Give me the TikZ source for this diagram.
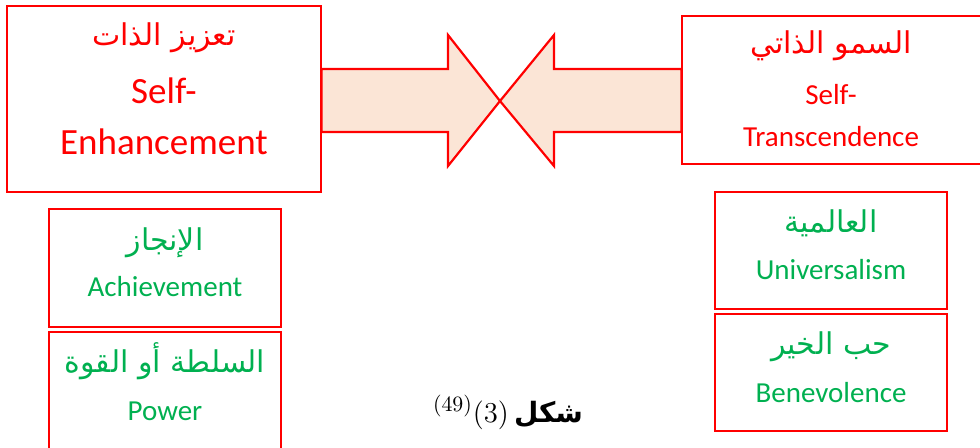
\documentclass[tikz,border=0pt]{standalone}
\usepackage{fontspec}
\setmainfont{Carlito}
\newfontfamily\arabicfont[Script=Arabic]{DejaVu Sans}
\TeXXeTstate=1
\usetikzlibrary{positioning,calc}
\definecolor{vred}{HTML}{FF0000}
\definecolor{vgreen}{HTML}{00B050}
\definecolor{vpeach}{HTML}{FBE5D6}
\tikzset{
  box style/.style={rectangle, draw=vred, line width=0.6pt, inner sep=0pt},
  big style/.style={anchor=base, inner sep=0pt, text=vred, font=\fontsize{18.5}{22}\selectfont},
  red style/.style={anchor=base, inner sep=0pt, text=vred, font=\fontsize{14.5}{17}\selectfont},
  grn style/.style={anchor=base, inner sep=0pt, text=vgreen, font=\fontsize{14.5}{17}\selectfont},
  ar style/.style={anchor=base, inner sep=0pt, font=\arabicfont\fontsize{15}{18}\selectfont},
  blk style/.style={draw=vred, fill=vpeach, line width=1.1pt, line join=miter}
}

\begin{document}
\begin{tikzpicture}[x=0.5pt, y=-0.5pt]
\useasboundingbox (0,0) rectangle (980,447);

\node[box style, minimum width=157pt, minimum height=93pt] (enh) at (164,99) {};
\node[box style, minimum width=154pt, minimum height=74pt] (trans) at (836,90) {};
\node[box style, minimum width=116pt, minimum height=59pt] (ach) at (165,268) {};
\node[box style, minimum width=116pt, minimum height=64pt] (pow) at (165,396) {};
\node[box style, minimum width=116pt, minimum height=58.5pt] (univ) at (831,250.5) {};
\node[box style, minimum width=116pt, minimum height=58.5pt] (bene) at (831,372.5) {};

\coordinate (mid) at (500,101);
\draw[blk style] (enh.east |- 0,69) -- (448,69) -- (448,35) -- (mid) -- (448,166)
  -- (448,132) -- (enh.east |- 0,132) -- cycle;
\draw[blk style] (trans.west |- 0,69) -- (554,69) -- (554,35) -- (mid) -- (554,166)
  -- (554,132) -- (trans.west |- 0,132) -- cycle;

\node[ar style, text=vred] (enhAr) at (164,45) {\beginR تعزيز الذات\endR};
\node[big style] (enhA) at (164,103) {Self-};
\node[big style] (enhB) at (164,154) {Enhancement};

\node[ar style, text=vred] (transAr) at (831,53) {\beginR السمو الذاتي\endR};
\node[red style] (transA) at (831,104) {Self-};
\node[red style] (transB) at (831,146) {Transcendence};

\node[ar style, text=vgreen] (achAr) at (165,250) {\beginR الإنجاز\endR};
\node[grn style] (achEn) at (165,296) {Achievement};
\node[ar style, text=vgreen] (powAr) at (165,372) {\beginR السلطة أو القوة\endR};
\node[grn style] (powEn) at (165,420) {Power};

\node[ar style, text=vgreen] (univAr) at (831,232) {\beginR العالمية\endR};
\node[grn style] (univEn) at (831,279) {Universalism};
\node[ar style, text=vgreen] (beneAr) at (831,354) {\beginR حب الخير\endR};
\node[grn style] (beneEn) at (831,402) {Benevolence};

\node[anchor=base, inner sep=0pt, font=\fontsize{15.5}{18}\selectfont] (fig) at (508,422)
  {$^{(49)}(3)$\,{\arabicfont\bfseries\fontsize{14}{17}\selectfont\beginR شكل\endR}};

\end{tikzpicture}
\end{document}
